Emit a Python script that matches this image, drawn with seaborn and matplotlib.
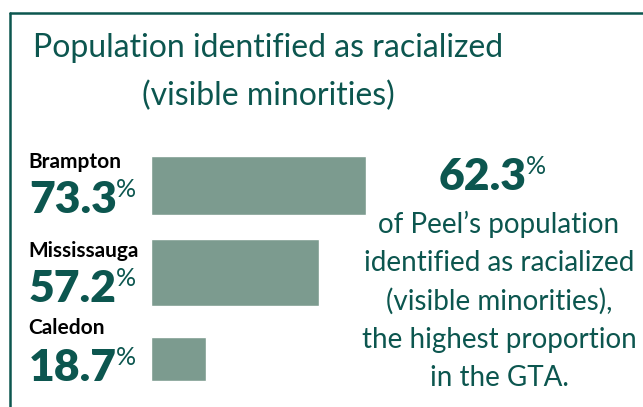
import matplotlib.pyplot as plt
import seaborn as sns
import pandas as pd

# data
cities = ['Brampton', 'Mississauga', 'Caledon']
shares = [73.3, 57.2, 18.7]
peel_share = 62.3
title_lines = ['Population identified as racialized', '(visible minorities)']
note_lines = ["of Peel\u2019s population", 'identified as racialized',
              '(visible minorities),', 'the highest proportion', 'in the GTA.']

W, H = 643, 407
TEAL = '#0c564f'
BAR = '#7c9b8f'

sns.set_theme(style='white')
plt.rcParams['font.family'] = ['Lato', 'DejaVu Sans']

fig = plt.figure(figsize=(W / 100, H / 100), dpi=100)
renderer = fig.canvas.get_renderer()


def px(x, y):
    return x / W, 1 - y / H


def number_with_pct(x, y, text, ha='left'):
    t = fig.text(*px(x, y), text, ha=ha, va='baseline', fontsize=32,
                 fontweight='heavy', color=TEAL)
    bb = t.get_window_extent(renderer)
    fig.text(*px(bb.x1 - 1, y - 16), '%', ha='left', va='baseline',
             fontsize=18, color=TEAL)


# frame lines
fig.add_artist(plt.Line2D([10 / W, 1], [1 - 13 / H] * 2, color=TEAL, lw=1.8))
fig.add_artist(plt.Line2D([10 / W] * 2, [0, 1 - 13 / H], color=TEAL, lw=1.8))

# title
fig.text(*px(268, 48), title_lines[0], ha='center', va='center',
         fontsize=23, color=TEAL)
fig.text(*px(268, 96), title_lines[1], ha='center', va='center',
         fontsize=23, color=TEAL)

# bars
ax = fig.add_axes([151 / W, 1 - 402.4 / H, 293.5 / W, 260.3 / H])
df = pd.DataFrame({'city': cities, 'share': shares})
sns.barplot(data=df, x='share', y='city', orient='h', color=BAR,
            saturation=1, width=0.7, ax=ax)
bar_h = [0.68, 0.77, 0.51]
for p, h in zip(ax.patches, bar_h):
    c = p.get_y() + p.get_height() / 2
    p.set_height(h)
    p.set_y(c - h / 2)
ax.set_xlim(0, 100)
ax.set_ylim(2.5, -0.5)
ax.axis('off')

# city labels
name_y = [168, 257, 334]
num_y = [213, 302, 381]
for name, val, ny, vy in zip(cities, shares, name_y, num_y):
    fig.text(*px(28, ny), name, ha='left', va='baseline', fontsize=15,
             fontweight='bold', color='black')
    number_with_pct(29, vy, f'{val:.1f}')

# right-hand note
number_with_pct(439, 190, f'{peel_share:.1f}')
note_y = [224, 263, 301, 340, 378]
for line, y in zip(note_lines, note_y):
    fig.text(*px(499, y), line, ha='center', va='center', fontsize=20,
             color=TEAL)

fig.savefig('out.png', dpi=100)
